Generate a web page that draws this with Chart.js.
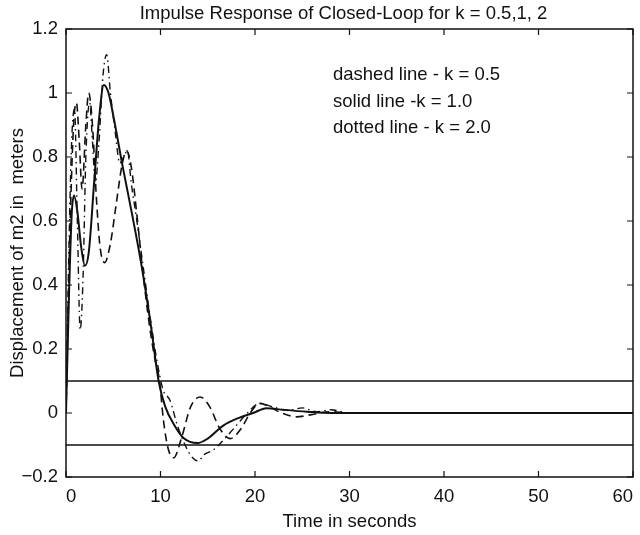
<!DOCTYPE html>
<html>
<head>
<meta charset="utf-8">
<script src="https://cdn.jsdelivr.net/npm/chart.js@4.4.1/dist/chart.umd.min.js"></script>
<style>
  html, body { margin: 0; padding: 0; background: #fff; }
  #wrap { width: 640px; height: 535px; }
</style>
</head>
<body>
<div id="wrap"><canvas id="impulseChart"></canvas></div>
<script>
// Impulse response of closed loop, k = 0.5 (dashed), 1 (solid), 2 (dash-dot)

// k = 0.5
const tK05 = [0, 0.4, 0.8, 1.1, 1.4, 1.7, 2.1, 2.4, 2.8, 3.2, 3.6, 4.1, 4.7, 5.3, 5.9, 6.4, 6.9, 7.5, 8.1, 8.8, 9.4, 9.9, 10.3, 10.8, 11.4, 12.2, 13.2, 14.2, 15.2, 16.3, 17.4, 18.5, 19.5, 20.5, 21.5, 22.8, 24.4, 26, 28, 30, 35, 60];
const yK05 = [0, 0.55, 0.9, 0.97, 0.85, 0.7, 0.9, 1.0, 0.9, 0.68, 0.52, 0.47, 0.53, 0.65, 0.77, 0.82, 0.77, 0.62, 0.45, 0.28, 0.17, 0.1, -0.02, -0.11, -0.14, -0.08, 0.02, 0.05, 0.02, -0.05, -0.08, -0.05, 0.0, 0.03, 0.02, 0.0, -0.012, -0.005, 0.004, 0, 0, 0];

// k = 1.0
const tK1 = [0, 0.3, 0.6, 0.85, 1.2, 1.6, 2.0, 2.4, 3.0, 3.5, 4.0, 4.5, 5.0, 6.0, 7.0, 8.0, 9.0, 9.8, 10.5, 11.5, 12.5, 13.9, 15.0, 16.6, 18.3, 19.8, 21.2, 23.0, 25.5, 28, 35, 60];
const yK1 = [0, 0.35, 0.62, 0.68, 0.63, 0.52, 0.46, 0.5, 0.73, 0.92, 1.025, 1.0, 0.93, 0.77, 0.62, 0.46, 0.27, 0.1, 0.02, -0.04, -0.08, -0.094, -0.08, -0.04, -0.015, 0.0, 0.015, 0.01, 0.004, 0, 0, 0];

// k = 2.0
const tK2 = [0, 0.3, 0.6, 0.9, 1.2, 1.5, 1.8, 2.1, 2.5, 2.8, 3.1, 3.5, 3.9, 4.3, 4.7, 5.2, 5.7, 6.1, 6.5, 6.9, 7.5, 8.2, 9.0, 9.7, 10.3, 11.0, 11.8, 12.6, 13.4, 14.0, 14.6, 15.6, 16.8, 18.0, 19.2, 20.5, 22, 23.5, 25, 26.5, 28, 30, 35, 60];
const yK2 = [0, 0.5, 0.85, 0.95, 0.6, 0.26, 0.42, 0.8, 0.97, 0.85, 0.72, 0.85, 1.05, 1.12, 1.0, 0.88, 0.78, 0.8, 0.82, 0.72, 0.6, 0.45, 0.28, 0.15, 0.07, 0.04, -0.04, -0.1, -0.14, -0.15, -0.13, -0.115, -0.08, -0.04, 0.0, 0.03, 0.018, 0.008, 0.016, 0.004, 0.01, 0, 0, 0];

// +/- 0.1 band lines
const bandT = [0, 60];
const bandLevels = [0.1, -0.1];

const xTicks = [0, 10, 20, 30, 40, 50, 60];
const yTicks = [-0.2, 0, 0.2, 0.4, 0.6, 0.8, 1, 1.2];

const chartTitle = 'Impulse Response of Closed-Loop for k = 0.5,1, 2';
const legendLines = ['dashed line - k = 0.5', 'solid line -k = 1.0', 'dotted line - k = 2.0'];

const FONT = "'Liberation Sans', Arial, Helvetica, sans-serif";
const FSIZE = 18.5;

function toPoints(ts, ys) {
    return ts.map((t, i) => ({ x: t, y: ys[i] }));
}

function lineSet(ts, ys, width, dash) {
    return {
        data: toPoints(ts, ys),
        borderColor: '#111',
        borderWidth: width,
        borderDash: dash,
        pointRadius: 0,
        showLine: true,
        fill: false,
        cubicInterpolationMode: 'monotone'
    };
}

// Box border, inward ticks, title over the plot area and the text block
const boxPlugin = {
    id: 'boxPlugin',
    afterDatasetsDraw(chart) {
        const ctx = chart.ctx;
        const a = chart.chartArea;
        const xs = chart.scales.x, ys = chart.scales.y;
        ctx.save();
        ctx.strokeStyle = '#111';
        ctx.lineWidth = 1.5;
        ctx.strokeRect(a.left, a.top, a.right - a.left, a.bottom - a.top);
        ctx.lineWidth = 1.2;
        ctx.beginPath();
        xTicks.forEach(v => {
            const px = xs.getPixelForValue(v);
            ctx.moveTo(px, a.bottom); ctx.lineTo(px, a.bottom - 6);
            ctx.moveTo(px, a.top); ctx.lineTo(px, a.top + 6);
        });
        yTicks.forEach(v => {
            const py = ys.getPixelForValue(v);
            ctx.moveTo(a.left, py); ctx.lineTo(a.left + 6, py);
            ctx.moveTo(a.right, py); ctx.lineTo(a.right - 6, py);
        });
        ctx.stroke();

        ctx.fillStyle = '#111';
        ctx.font = FSIZE + 'px ' + FONT;
        ctx.textBaseline = 'middle';
        ctx.textAlign = 'center';
        ctx.fillText(chartTitle, (a.left + a.right) / 2 - 6, a.top - 15);

        ctx.textAlign = 'left';
        legendLines.forEach((s, i) => {
            ctx.fillText(s, a.left + 267, a.top + 46 + i * 26.5);
        });
        ctx.restore();
    }
};

const datasets = [
    lineSet(tK05, yK05, 1.6, [8, 5]),
    lineSet(tK1, yK1, 2, []),
    lineSet(tK2, yK2, 1.4, [7, 4, 1.5, 4])
];
bandLevels.forEach(lv => {
    datasets.push({
        data: bandT.map(t => ({ x: t, y: lv })),
        borderColor: '#111',
        borderWidth: 1.6,
        pointRadius: 0,
        showLine: true,
        fill: false
    });
});

const ctx = document.getElementById('impulseChart').getContext('2d');
new Chart(ctx, {
    type: 'scatter',
    data: { datasets: datasets },
    options: {
        responsive: true,
        maintainAspectRatio: false,
        animation: false,
        layout: { padding: { left: 0, right: 7, top: 29, bottom: 0 } },
        plugins: {
            legend: { display: false },
            tooltip: { enabled: false },
            title: { display: false }
        },
        scales: {
            x: {
                type: 'linear',
                min: 0,
                max: 60,
                grid: { display: false, drawTicks: false },
                border: { display: false },
                afterBuildTicks: s => { s.ticks = xTicks.map(v => ({ value: v })); },
                afterFit: s => { s.height = 58; s.paddingLeft = 0; s.paddingRight = 0; },
                ticks: {
                    color: '#111',
                    padding: 9,
                    align: 'inner',
                    maxRotation: 0,
                    font: { family: FONT, size: FSIZE },
                    callback: v => String(v)
                },
                title: {
                    display: true,
                    text: 'Time in seconds',
                    color: '#111',
                    font: { family: FONT, size: FSIZE },
                    padding: { top: 0, bottom: 2 }
                }
            },
            y: {
                type: 'linear',
                min: -0.2,
                max: 1.2,
                grid: { display: false, drawTicks: false },
                border: { display: false },
                afterBuildTicks: s => { s.ticks = yTicks.map(v => ({ value: v })); },
                afterFit: s => { s.width = 66; s.paddingTop = 0; s.paddingBottom = 0; },
                ticks: {
                    color: '#111',
                    padding: 8,
                    font: { family: FONT, size: FSIZE },
                    callback: v => {
                        const n = Number(v.toFixed(1));
                        return n < 0 ? '\u2212' + String(-n) : String(n);
                    }
                },
                title: {
                    display: true,
                    text: 'Displacement of m2 in  meters',
                    color: '#111',
                    font: { family: FONT, size: FSIZE },
                    padding: { top: 7, bottom: 0 }
                }
            }
        }
    },
    plugins: [boxPlugin]
});
</script>
</body>
</html>
